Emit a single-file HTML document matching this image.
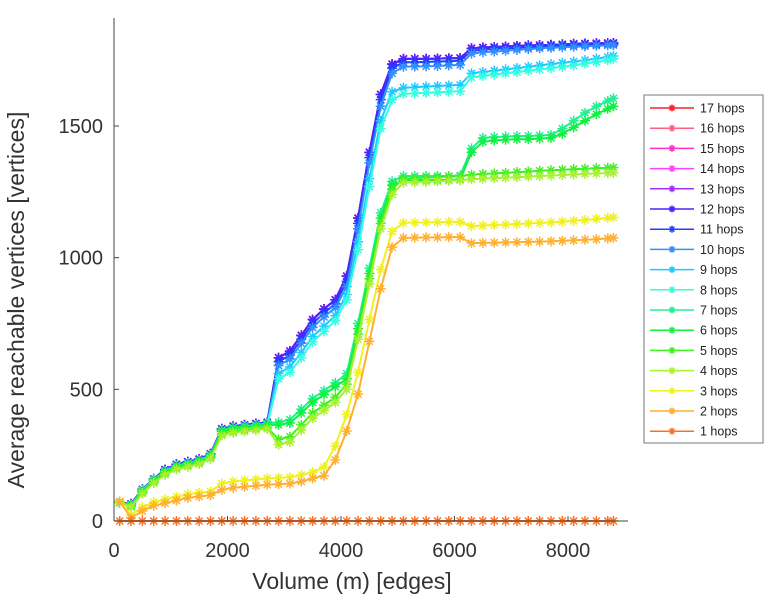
<!DOCTYPE html>
<html><head><meta charset="utf-8"><style>
html,body{margin:0;padding:0;background:#fff;}
svg{display:block;font-family:"Liberation Sans",sans-serif;}
</style></head><body>
<svg id="chart" width="766" height="600" viewBox="0 0 766 600" xmlns="http://www.w3.org/2000/svg">
<g id="plot"></g>
<g id="axes"></g>
<g id="legend"></g>
</svg>
<script>
const xValues = [100,300,500,700,900,1100,1300,1500,1700,1900,2100,2300,2500,2700,2900,3100,3300,3500,3700,3900,4100,4300,4500,4700,4900,5100,5300,5500,5700,5900,6100,6300,6500,6700,6900,7100,7300,7500,7700,7900,8100,8300,8500,8700,8800];
const hops1 = [0,0,0,0,0,0,0,0,0,0,0,0,0,0,0,0,0,0,0,0,0,0,0,0,0,0,0,0,0,0,0,0,0,0,0,0,0,0,0,0,0,0,0,0,0];
const hops2 = [74,12,38,58,68,78,88,93,98,118,126,130,134,138,140,142,150,162,172,232,342,482,682,882,1040,1075,1076,1077,1077,1078,1078,1055,1056,1057,1058,1059,1060,1061,1062,1064,1066,1068,1070,1073,1075];
const hops3 = [74,22,52,72,82,92,102,107,112,142,150,154,158,162,164,166,175,185,205,285,405,565,765,955,1100,1132,1133,1134,1135,1136,1136,1120,1122,1124,1126,1128,1130,1132,1134,1137,1140,1143,1147,1151,1153];
const hops4 = [70,52,104,144,176,196,206,216,236,325,335,340,345,350,290,300,345,390,420,450,500,690,900,1110,1240,1285,1286,1288,1290,1292,1294,1298,1300,1302,1304,1306,1308,1310,1312,1314,1316,1318,1320,1321,1322];
const hops5 = [70,55,108,148,180,200,210,220,240,330,340,345,350,355,310,320,365,410,440,470,520,710,920,1130,1260,1300,1302,1304,1306,1308,1310,1315,1318,1320,1322,1325,1327,1330,1332,1334,1336,1338,1340,1341,1342];
const hops6 = [70,58,112,152,185,205,215,225,245,340,350,355,360,365,365,372,410,450,480,510,540,730,940,1150,1275,1295,1295,1295,1295,1295,1297,1400,1440,1445,1448,1450,1450,1452,1455,1470,1495,1520,1545,1565,1575];
const hops7 = [70,62,118,158,190,210,220,230,250,345,355,360,365,370,375,385,425,465,495,525,560,750,960,1170,1290,1310,1310,1310,1310,1310,1312,1415,1455,1458,1460,1462,1462,1464,1466,1490,1520,1550,1575,1595,1605];
const hops8 = [70,58,112,152,186,206,216,226,246,340,350,355,360,365,540,565,620,680,720,760,840,1030,1270,1490,1600,1622,1624,1626,1628,1630,1632,1685,1690,1695,1700,1705,1710,1715,1720,1725,1730,1737,1743,1750,1755];
const hops9 = [70,60,114,154,188,208,218,228,248,342,352,357,362,367,560,585,640,700,740,780,860,1060,1300,1520,1630,1645,1647,1650,1652,1654,1656,1700,1705,1710,1715,1720,1725,1730,1735,1740,1745,1750,1756,1762,1766];
const hops10 = [70,62,116,156,190,210,220,230,250,345,355,360,365,370,590,615,675,735,775,810,890,1110,1360,1575,1700,1725,1726,1727,1728,1730,1732,1775,1780,1783,1786,1789,1792,1795,1797,1799,1801,1803,1805,1806,1807];
const hops11 = [70,63,118,158,192,212,222,232,252,347,357,362,367,372,605,630,690,750,790,825,910,1130,1380,1600,1720,1742,1742,1743,1745,1746,1748,1785,1790,1793,1795,1797,1800,1802,1804,1806,1808,1809,1810,1811,1811];
const hops12 = [70,65,120,160,195,215,225,235,255,350,360,365,370,375,620,645,705,765,805,840,930,1150,1400,1620,1735,1755,1755,1755,1756,1757,1758,1795,1798,1800,1802,1804,1806,1807,1808,1810,1812,1813,1814,1815,1815];
const hops13 = hops12.slice();
const hops14 = hops12.slice();
const hops15 = hops12.slice();
const hops16 = hops12.slice();
const hops17 = hops12.slice();
const seriesNames = ["17 hops","16 hops","15 hops","14 hops","13 hops","12 hops","11 hops","10 hops","9 hops","8 hops","7 hops","6 hops","5 hops","4 hops","3 hops","2 hops","1 hops"];
const seriesValues = [hops17,hops16,hops15,hops14,hops13,hops12,hops11,hops10,hops9,hops8,hops7,hops6,hops5,hops4,hops3,hops2,hops1];
const seriesColors = ["#ff2030","#ff6080","#ff30c0","#ff40ff","#a030ff","#5020ff","#2040ff","#3090ff","#20c8ff","#30ffe0","#20f090","#10f040","#40f020","#a8f030","#f0f020","#ffb030","#ff7020"];
const xTicks = [0,2000,4000,6000,8000];
const yTicks = [0,500,1000,1500];

const NS = "http://www.w3.org/2000/svg";
const L = 114, R = 628, T = 18, B = 521;
function sx(v){ return L + v * (568 - 114) / 8000; }
function sy(v){ return B - v * (521 - 126) / 1500; }
function mk(tag, attrs, parent){
  const e = document.createElementNS(NS, tag);
  for (const k in attrs) e.setAttribute(k, attrs[k]);
  parent.appendChild(e);
  return e;
}
function star(g, x, y, c, s){
  const d = `M${x-s},${y}H${x+s}M${x},${y-s}V${y+s}M${x-s*0.7},${y-s*0.7}L${x+s*0.7},${y+s*0.7}M${x-s*0.7},${y+s*0.7}L${x+s*0.7},${y-s*0.7}`;
  mk("path", {d:d, stroke:c, "stroke-width":1.5, fill:"none"}, g);
}
const plot = document.getElementById("plot");
for (let i = 0; i < seriesValues.length; i++) {
  const vals = seriesValues[i], c = seriesColors[i];
  const g = mk("g", {}, plot);
  
  
  const pts = vals.map((v, j) => sx(xValues[j]).toFixed(1) + "," + sy(v).toFixed(1)).join(" ");
  mk("polyline", {points: pts, fill: "none", stroke: c, "stroke-width": 2}, g);
  vals.forEach((v, j) => star(g, sx(xValues[j]), sy(v), c, 5));
}
const axes = document.getElementById("axes");
mk("line", {x1:L, y1:T, x2:L, y2:B, stroke:"#444", "stroke-width":1}, axes);
mk("line", {x1:L, y1:B, x2:R, y2:B, stroke:"#444", "stroke-width":1}, axes);
xTicks.forEach(t => {
  mk("line", {x1:sx(t), y1:B, x2:sx(t), y2:B-5, stroke:"#444"}, axes);
  const tx = mk("text", {x:sx(t), y:557, "text-anchor":"middle", "font-size":20, fill:"#333"}, axes);
  tx.textContent = t;
  
  
});
yTicks.forEach(t => {
  mk("line", {x1:L, y1:sy(t), x2:L+5, y2:sy(t), stroke:"#444"}, axes);
  const tx = mk("text", {x:103, y:sy(t)+7, "text-anchor":"end", "font-size":20, fill:"#333"}, axes);
  tx.textContent = t;
  
  
});
const xt = mk("text", {x:352, y:589, "text-anchor":"middle", "font-size":23, fill:"#333"}, axes);
xt.textContent = "Volume (m) [edges]";


const yt = mk("text", {x:0, y:0, "text-anchor":"middle", "font-size":23, fill:"#333", transform:"translate(24,300) rotate(-90)"}, axes);
yt.textContent = "Average reachable vertices [vertices]";



const leg = document.getElementById("legend");
mk("rect", {x:644, y:95, width:119, height:348, fill:"#fff", stroke:"#777", "stroke-width":1}, leg);
seriesNames.forEach((n, i) => {
  const y = 108 + i * 20.2;
  const g = mk("g", {}, leg);
  
  
  mk("line", {x1:650, y1:y, x2:694, y2:y, stroke:seriesColors[i], "stroke-width":1.5}, g);
  star(g, 672, y, seriesColors[i], 3.5);
  const t = mk("text", {x:700, y:y+4.5, "font-size":12.5, fill:"#222"}, g);
  t.textContent = n;
});
</script>
</body></html>
